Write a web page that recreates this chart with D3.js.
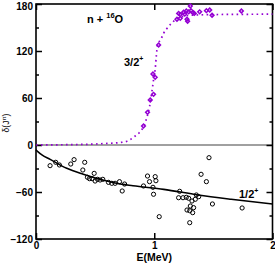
<!DOCTYPE html>
<html>
<head>
<meta charset="utf-8">
<script src="https://cdn.jsdelivr.net/npm/d3@7"></script>
<style>
  body { margin: 0; background: #fff; }
  text { font-family: "Liberation Sans", Arial, sans-serif; }
</style>
</head>
<body>
<div id="chart"></div>
<script>
"use strict";
// 3/2+ phase shift, data (E in MeV, delta in degrees)
var dataE32 = [0.909, 0.943, 0.966, 0.994, 0.989, 1.008, 1.037, 1.192, 1.206, 1.220, 1.220,
  1.248, 1.258, 1.271, 1.277, 1.282, 1.291, 1.305, 1.311, 1.328, 1.339, 1.384, 1.441, 1.469, 1.489, 1.737];
var dataD32 = [24.3, 41.7, 57.4, 64.7, 90.6, 86.4, 127.7, 160.5, 168, 161.7, 166.5,
  169.4, 167, 171, 160.5, 158, 170, 177.4, 171.5, 168.9, 168, 170, 171.5, 172.3, 165.6, 171];

// 3/2+ fit curve
var fitE32 = [0, 0.3, 0.5, 0.6, 0.7, 0.77, 0.831, 0.873, 0.924, 0.938, 0.96, 0.98, 0.994, 1.008,
  1.017, 1.028, 1.057, 1.079, 1.102, 1.141, 1.186, 1.3, 1.5, 2.0];
var fitD32 = [0, 0.5, 1.2, 2, 3, 4.8, 10.6, 15.7, 28.5, 35.4, 48.9, 68, 83, 96.6,
  112.7, 127.7, 135, 142.6, 147.7, 154.5, 160.5, 165.5, 166.5, 167];

// 1/2+ phase shift, data
var dataE12 = [0.119, 0.167, 0.198, 0.294, 0.322, 0.396, 0.412, 0.435, 0.452, 0.475, 0.492,
  0.5, 0.52, 0.542, 0.565, 0.613, 0.641, 0.669, 0.706, 0.729, 0.749,
  0.909, 0.943, 0.96, 0.989, 0.994, 1.008, 1.014, 1.042,
  1.206, 1.215, 1.243, 1.271, 1.277, 1.291, 1.30, 1.30, 1.305, 1.319, 1.325, 1.333, 1.347, 1.356, 1.376,
  1.396, 1.441, 1.463, 1.492, 1.743];
var dataD12 = [-26.4, -22.1, -25.5, -24.3, -18.7, -31.9, -22.1, -41.2, -43, -43, -36.2,
  -46, -43.8, -44.7, -43.8, -47.7, -48.9, -48.9, -46.8, -58.7, -49.8,
  -52.3, -39.6, -46.8, -54, -62.9, -40.4, -45.6, -91.5,
  -67.3, -59.1, -67.3, -66.8, -83, -68, -83.9, -99.2, -77.9, -71.5, -86.4, -80, -69.3, -63.8, -66,
  -37.4, -46.8, -16.2, -75.3, -80.4];

// 1/2+ fit curve
var fitE12 = [0, 0.02, 0.05, 0.12, 0.26, 0.4, 0.54, 0.68, 0.82, 1.08, 1.37, 1.65, 2.0];
var fitD12 = [-6, -9, -12.5, -18.3, -29.8, -37.4, -43.8, -48.9, -52, -56.6, -63.8, -69.3, -75.3];

var yMajor = [-120, -60, 0, 60, 120, 180];
var yMinor = [-90, -30, 30, 90, 150];
var xMajor = [0, 1, 2];

var w = 275, h = 263;
var pLeft = 36, pRight = 272.5, pTop = 4, pBottom = 239;
var purple = "#9400d3";

var x = d3.scaleLinear().domain([0, 2]).range([pLeft, pRight]);
var y = d3.scaleLinear().domain([-120, 180]).range([pBottom, pTop]);

var svg = d3.select("#chart").append("svg")
  .attr("width", w)
  .attr("height", h);

// zero line
svg.append("line")
  .attr("x1", pLeft).attr("x2", pRight)
  .attr("y1", y(0)).attr("y2", y(0))
  .attr("stroke", "#808080")
  .attr("stroke-width", 1.5);

// axes, ticks pointing inward on all four sides
function styleAxis(g) {
  g.select(".domain").remove();
  g.selectAll(".tick line").attr("stroke", "#000").attr("stroke-width", 1.5);
  g.selectAll(".tick text")
    .attr("fill", "#000")
    .style("font-size", "10px")
    .style("font-weight", "bold");
}

var yAxisG = svg.append("g")
  .attr("transform", "translate(" + pLeft + ",0)")
  .call(d3.axisLeft(y).tickValues(yMajor).tickSizeInner(-6).tickPadding(3)
    .tickFormat(d3.format("d")))
  .call(styleAxis);
// keep the top label inside the window
yAxisG.selectAll(".tick text").filter(function(d) { return d === 180; }).attr("dy", "0.55em");

svg.append("g")
  .attr("transform", "translate(" + pLeft + ",0)")
  .call(d3.axisLeft(y).tickValues(yMinor).tickSizeInner(-3).tickFormat(""))
  .call(styleAxis);
svg.append("g")
  .attr("transform", "translate(" + pRight + ",0)")
  .call(d3.axisRight(y).tickValues(yMajor).tickSizeInner(-6).tickFormat(""))
  .call(styleAxis);
svg.append("g")
  .attr("transform", "translate(" + pRight + ",0)")
  .call(d3.axisRight(y).tickValues(yMinor).tickSizeInner(-3).tickFormat(""))
  .call(styleAxis);
svg.append("g")
  .attr("transform", "translate(0," + pBottom + ")")
  .call(d3.axisBottom(x).tickValues(xMajor).tickSizeInner(-6).tickPadding(3)
    .tickFormat(d3.format("d")))
  .call(styleAxis);
svg.append("g")
  .attr("transform", "translate(0," + pTop + ")")
  .call(d3.axisTop(x).tickValues(xMajor).tickSizeInner(-6).tickFormat(""))
  .call(styleAxis);

// frame
svg.append("rect")
  .attr("x", pLeft).attr("y", pTop)
  .attr("width", pRight - pLeft).attr("height", pBottom - pTop)
  .attr("fill", "none")
  .attr("stroke", "#000")
  .attr("stroke-width", 1.6);

var line = d3.line()
  .x(function(d) { return x(d[0]); })
  .y(function(d) { return y(d[1]); })
  .curve(d3.curveMonotoneX);

// 3/2+ dotted fit
svg.append("path")
  .datum(d3.zip(fitE32, fitD32))
  .attr("d", line)
  .attr("fill", "none")
  .attr("stroke", purple)
  .attr("stroke-width", 1.7)
  .attr("stroke-dasharray", "1.6,3.4");

// 1/2+ solid fit
svg.append("path")
  .datum(d3.zip(fitE12, fitD12))
  .attr("d", line)
  .attr("fill", "none")
  .attr("stroke", "#000")
  .attr("stroke-width", 1.6);

// 3/2+ diamonds (square turned 45 degrees)
svg.append("g").selectAll("path")
  .data(d3.zip(dataE32, dataD32))
  .join("path")
  .attr("d", d3.symbol().type(d3.symbolSquare).size(7))
  .attr("transform", function(d) {
    return "translate(" + x(d[0]) + "," + y(d[1]) + ") rotate(45)";
  })
  .attr("fill", "none")
  .attr("stroke", purple)
  .attr("stroke-width", 1.5);

// 1/2+ circles
svg.append("g").selectAll("circle")
  .data(d3.zip(dataE12, dataD12))
  .join("circle")
  .attr("cx", function(d) { return x(d[0]); })
  .attr("cy", function(d) { return y(d[1]); })
  .attr("r", 2.1)
  .attr("fill", "none")
  .attr("stroke", "#000")
  .attr("stroke-width", 1);

// labels
var t1 = svg.append("text")
  .attr("x", 87).attr("y", 23)
  .style("font-size", "11px").style("font-weight", "bold");
t1.append("tspan").text("n + ");
t1.append("tspan").attr("dy", -5).style("font-size", "7.5px").text("16");
t1.append("tspan").attr("dy", 5).text("O");

var t2 = svg.append("text")
  .attr("x", 124).attr("y", 66)
  .style("font-size", "11px").style("font-weight", "bold");
t2.append("tspan").text("3/2");
t2.append("tspan").attr("dy", -5).style("font-size", "7px").text("+");

var t3 = svg.append("text")
  .attr("x", 239).attr("y", 198)
  .style("font-size", "11px").style("font-weight", "bold");
t3.append("tspan").text("1/2");
t3.append("tspan").attr("dy", -5).style("font-size", "7px").text("+");

svg.append("text")
  .attr("x", x(1)).attr("y", 261)
  .attr("text-anchor", "middle")
  .style("font-size", "10.5px").style("font-weight", "bold")
  .text("E(MeV)");

var yl = svg.append("text")
  .attr("transform", "translate(9,123) rotate(-90)")
  .attr("text-anchor", "middle")
  .style("font-size", "8.5px");
yl.append("tspan").text("δ(J");
yl.append("tspan").attr("dy", -3).style("font-size", "6px").text("π");
yl.append("tspan").attr("dy", 3).text(")");
</script>
</body>
</html>
